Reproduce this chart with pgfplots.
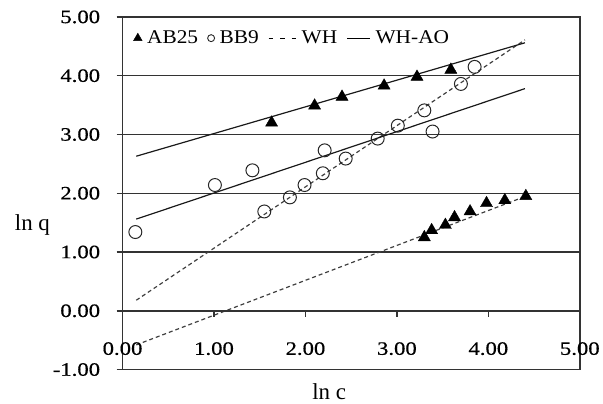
\documentclass[border=0pt]{standalone}
\usepackage{pgfplots}
\pgfplotsset{compat=1.18}
\usepackage{fontspec}
\setmainfont{Liberation Serif}
\newfontfamily\tickfont{Liberation Serif}[FakeStretch=1.2,FakeBold=0.5]
\newfontfamily\legfont{Liberation Serif}[FakeStretch=1.1]

\colorlet{gridc}{black!80}

\begin{document}
\begin{tikzpicture}
\begin{axis}[
  name=main,
  scale only axis, width=459pt, height=354pt,
  xmin=0, xmax=5, ymin=-1, ymax=5,
  xtick=\empty, ytick={-1,0,1,2,3,4,5}, ytick pos=left,
  tick align=outside, major tick length=6pt,
  tick style={line width=1.5pt, gridc},
  axis line style={line width=1.5pt, gridc},
  ymajorgrids, grid style={line width=1.5pt, gridc},
  /pgf/number format/.cd, fixed, fixed zerofill, precision=2, assume math mode=true, /pgfplots/.cd,
  tick label style={font=\tickfont\fontsize{19}{22}\selectfont},
  yticklabel style={xshift=-13pt},
  xlabel={ln c}, ylabel={ln q},
  every axis x label/.style={at={(rel axis cs:0.452,-0.062)}, anchor=center, font=\fontsize{23}{26}\selectfont},
  every axis y label/.style={at={(rel axis cs:-0.197,0.41)}, anchor=center, font=\fontsize{23}{26}\selectfont},
  legend style={at={(rel axis cs:0.017,0.972)}, anchor=north west, draw=none, fill=none,
    font=\legfont\fontsize{19.5}{22}\selectfont,
    /tikz/every odd column/.append style={column sep=3pt},
    /tikz/every even column/.append style={column sep=7.5pt}},
  legend columns=4, legend cell align=left,
  clip=false
]
% AB25
\addplot[only marks, mark=triangle*, mark size=7pt, black,
  legend image post style={mark size=5pt}] coordinates {
 (1.63,3.20) (2.10,3.49) (2.40,3.64) (2.86,3.83) (3.22,3.98) (3.59,4.10)};
\addlegendentry{AB25}
\addplot[only marks, mark=triangle*, mark size=7pt, black, forget plot] coordinates {
 (3.30,1.25) (3.38,1.37) (3.53,1.46) (3.63,1.59) (3.80,1.69) (3.98,1.83) (4.18,1.88) (4.41,1.95)};
% BB9
\addplot[only marks, mark=o, mark size=6.5pt, black!85, line width=1pt,
  legend image post style={mark size=3.5pt, line width=0.9pt}] coordinates {
 (0.14,1.34) (1.01,2.14) (1.42,2.39) (1.55,1.69) (1.83,1.93) (1.99,2.14) (2.19,2.34)
 (2.21,2.73) (2.44,2.59) (2.79,2.93) (3.01,3.15) (3.30,3.41) (3.39,3.05) (3.70,3.86) (3.85,4.15)};
\addlegendentry{BB9}
% WH
\addplot[black!75, line width=1.2pt, dash pattern=on 4pt off 3pt,
  legend image code/.code={\draw[black, line width=1pt, dash pattern=on 4.5pt off 7pt] (0pt,0pt) -- (27.5pt,0pt);}]
  coordinates {(0.15,0.18) (4.40,4.61)};
\addlegendentry{WH}
\addplot[black!75, line width=1.2pt, dash pattern=on 4pt off 3pt, forget plot] coordinates {(0.15,-0.58) (4.41,1.95)};
% WH-AO
\addplot[black!90, line width=1.2pt,
  legend image code/.code={\draw[black, line width=1pt] (0pt,0pt) -- (23pt,0pt);}]
  coordinates {(0.15,2.63) (4.40,4.56)};
\addlegendentry{WH-AO}
\addplot[black!90, line width=1.2pt, forget plot] coordinates {(0.15,1.56) (4.40,3.78)};
\coordinate (bl) at (rel axis cs:-0.268,-0.096);
\coordinate (tr) at (rel axis cs:1.046,1.048);
\end{axis}
% x axis crossing at y = 0
\begin{axis}[
  at={(0pt,59pt)}, anchor=south west,
  scale only axis, width=459pt, height=295pt,
  xmin=0, xmax=5, ymin=0, ymax=5,
  axis x line*=bottom, hide y axis,
  x axis line style={-, line width=1.5pt, gridc},
  xtick={0,1,2,3,4,5},
  tick align=outside, major tick length=6pt,
  tick style={line width=1.5pt, gridc},
  /pgf/number format/.cd, fixed, fixed zerofill, precision=2, assume math mode=true, /pgfplots/.cd,
  xticklabel style={font=\tickfont\fontsize{19}{22}\selectfont, yshift=-22pt},
]
\end{axis}
\path (bl) rectangle (tr);
\end{tikzpicture}
\end{document}
